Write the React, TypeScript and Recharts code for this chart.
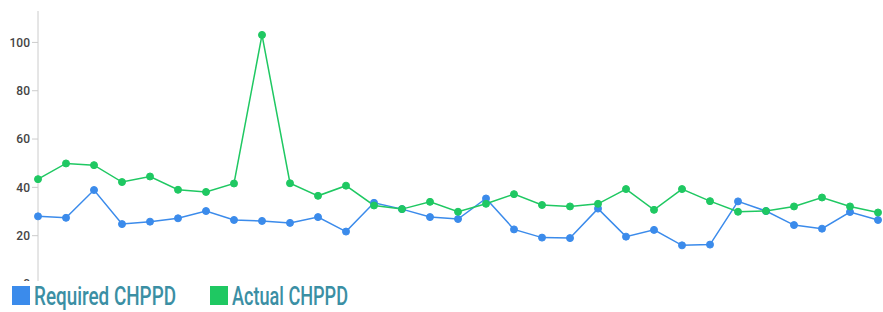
import React from 'react';
import { LineChart, Line, XAxis, YAxis } from 'recharts';

const days = Array.from({ length: 31 }, (_, i) => `Day ${i + 1}`);

const requiredCHPPD = [
  28.0, 27.4, 38.9, 24.8, 25.8, 27.2, 30.2, 26.5, 26.1, 25.3,
  27.7, 21.7, 33.6, 31.0, 27.7, 26.9, 35.4, 22.6, 19.2, 19.0,
  31.2, 19.6, 22.4, 16.0, 16.3, 34.2, 30.2, 24.4, 22.9, 29.8, 26.5,
];

const actualCHPPD = [
  43.4, 49.9, 49.2, 42.2, 44.5, 39.0, 38.1, 41.6, 103.1, 41.7,
  36.5, 40.7, 32.5, 31.0, 34.0, 29.9, 33.2, 37.2, 32.7, 32.1,
  33.2, 39.3, 30.7, 39.3, 34.3, 29.9, 30.2, 32.1, 35.8, 32.1, 29.6,
];

const yTicks = [0, 20, 40, 60, 80, 100];

const seriesNames = ['Required CHPPD', 'Actual CHPPD'];

const data = days.map((d, i) => ({
  day: d,
  required: requiredCHPPD[i],
  actual: actualCHPPD[i],
}));

const BLUE = '#3b8beb';
const GREEN = '#1fc862';

const legendItems = [
  { name: seriesNames[0], color: BLUE, x: 12, w: 142 },
  { name: seriesNames[1], color: GREEN, x: 210, w: 116 },
];

function LegendBar() {
  return (
    <div style={{ position: 'absolute', left: 0, top: 281, width: 883, height: 31, background: '#fff' }}>
      <svg width={883} height={31} style={{ display: 'block' }}>
        {legendItems.map((p) => (
          <g key={p.name}>
            <rect x={p.x} y={5} width={18} height={19} fill={p.color} />
            <text
              x={p.x + 22}
              y={24}
              fontFamily="Roboto, sans-serif"
              fontSize={26}
              fontWeight={500}
              fill="#3b8fa4"
              textLength={p.w}
              lengthAdjust="spacingAndGlyphs"
            >
              {p.name}
            </text>
          </g>
        ))}
      </svg>
    </div>
  );
}

export default function App() {
  return (
    <div style={{ position: 'absolute', left: 0, top: 0, width: 883, height: 312, background: '#fff' }}>
      <LineChart
        width={883}
        height={290}
        data={data}
        margin={{ top: 11, right: 5, bottom: 6, left: 0 }}
      >
        <XAxis dataKey="day" hide padding={{ left: 0, right: 0 }} />
        <YAxis
          width={38}
          domain={[0, 113]}
          ticks={yTicks}
          interval={0}
          axisLine={{ stroke: '#cccccc' }}
          tickLine={{ stroke: '#cccccc' }}
          tickSize={6}
          tick={{ fill: '#444444', fontSize: 12, fontWeight: 500, fontFamily: 'Roboto, sans-serif' }}
        />
        <Line
          type="linear"
          dataKey="required"
          name={seriesNames[0]}
          stroke={BLUE}
          strokeWidth={1.5}
          dot={{ r: 3.5, fill: BLUE, stroke: BLUE, strokeWidth: 1 }}
          isAnimationActive={false}
        />
        <Line
          type="linear"
          dataKey="actual"
          name={seriesNames[1]}
          stroke={GREEN}
          strokeWidth={1.5}
          dot={{ r: 3.5, fill: GREEN, stroke: GREEN, strokeWidth: 1 }}
          isAnimationActive={false}
        />
      </LineChart>
      <LegendBar />
    </div>
  );
}
